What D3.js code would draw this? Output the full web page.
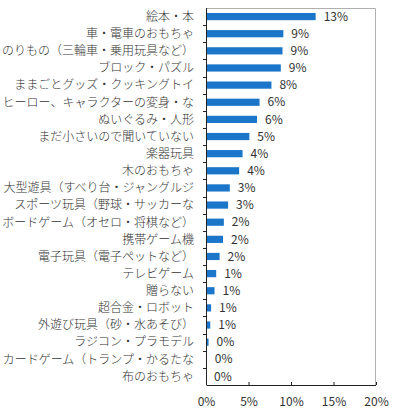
<!DOCTYPE html>
<html>
<head>
<meta charset="utf-8">
<script src="https://cdn.jsdelivr.net/npm/d3@7"></script>
<style>
  body { margin: 0; background: #fff; }
  text { font-family: "Noto Sans CJK JP", sans-serif; }
</style>
</head>
<body>
<script>
// data
var categories = [
    "絵本・本",
    "車・電車のおもちゃ",
    "のりもの（三輪車・乗用玩具など）",
    "ブロック・パズル",
    "ままごとグッズ・クッキングトイ",
    "ヒーロー、キャラクターの変身・な",
    "ぬいぐるみ・人形",
    "まだ小さいので聞いていない",
    "楽器玩具",
    "木のおもちゃ",
    "大型遊具（すべり台・ジャングルジ",
    "スポーツ玩具（野球・サッカーな",
    "ボードゲーム（オセロ・将棋など）",
    "携帯ゲーム機",
    "電子玩具（電子ペットなど）",
    "テレビゲーム",
    "贈らない",
    "超合金・ロボット",
    "外遊び玩具（砂・水あそび）",
    "ラジコン・プラモデル",
    "カードゲーム（トランプ・かるたな",
    "布のおもちゃ"
];
var values = [12.9, 9.1, 9.0, 8.8, 7.7, 6.3, 6.0, 5.1, 4.3, 3.9, 2.8, 2.6, 2.1, 2.0, 1.6, 1.2, 1.0, 0.6, 0.5, 0.3, 0.1, 0.0];
var valueLabels = ["13%", "9%", "9%", "9%", "8%", "6%", "6%", "5%", "4%", "4%", "3%", "3%", "2%", "2%", "2%", "1%", "1%", "1%", "1%", "0%", "0%", "0%"];
var xTicks = [0, 5, 10, 15, 20];

var width = 393;
var height = 413;
var margin = {top: 8, right: 17, bottom: 28, left: 206};

var svg = d3.select("body")
    .append("svg")
    .attr("width", width)
    .attr("height", height);

var innerW = width - margin.left - margin.right;
var innerH = height - margin.top - margin.bottom;

var g = svg.append("g")
    .attr("transform", "translate(" + margin.left + "," + margin.top + ")");

var x = d3.scaleLinear().domain([0, 20]).range([0, innerW]);
var y = d3.scaleBand().domain(categories).range([0, innerH]).paddingInner(0.58).paddingOuter(0.29);
var band = d3.scaleBand().domain(categories).range([0, innerH]);

// plot frame (top & right, light grey)
g.append("path")
    .attr("d", "M0,0.5H" + (innerW - 0.5) + "V" + innerH)
    .attr("fill", "none")
    .attr("stroke", "#b0b0b0")
    .attr("stroke-width", 1);

// bars
g.selectAll(".bar")
    .data(values)
    .enter().append("rect")
    .attr("class", "bar")
    .attr("x", 0)
    .attr("y", function(d, i) { return y(categories[i]); })
    .attr("width", function(d) { return x(d); })
    .attr("height", y.bandwidth())
    .attr("fill", "#1b75c8");

// value labels
g.selectAll(".val")
    .data(valueLabels)
    .enter().append("text")
    .attr("class", "val")
    .attr("x", function(d, i) { return x(values[i]) + 8; })
    .attr("y", function(d, i) { return y(categories[i]) + y.bandwidth() / 2; })
    .attr("dy", "0.35em")
    .attr("font-size", 12)
    .attr("font-family", "'Liberation Sans', Arial, sans-serif")
    .attr("fill", "#333")
    .text(function(d) { return d; });

// y axis: ticks at band boundaries
var yAxis = g.append("g");
yAxis.append("line")
    .attr("x1", 0.5).attr("x2", 0.5)
    .attr("y1", 0).attr("y2", innerH)
    .attr("stroke", "#222");
yAxis.selectAll(".ytick")
    .data(categories.slice(1))
    .enter().append("line")
    .attr("class", "ytick")
    .attr("x1", -3).attr("x2", 0)
    .attr("y1", function(d) { return Math.round(band(d)) + 0.5; })
    .attr("y2", function(d) { return Math.round(band(d)) + 0.5; })
    .attr("stroke", "#222");

// category labels
g.selectAll(".cat")
    .data(categories)
    .enter().append("text")
    .attr("class", "cat")
    .attr("x", -12)
    .attr("y", function(d) { return y(d) + y.bandwidth() / 2; })
    .attr("dy", "0.36em")
    .attr("text-anchor", "end")
    .attr("font-size", 12)
    .attr("font-weight", 300)
    .attr("fill", "#333")
    .text(function(d) { return d; });

// x axis
var xAxis = g.append("g")
    .attr("transform", "translate(0," + innerH + ")")
    .call(d3.axisBottom(x).tickValues(xTicks).tickSize(-3).tickPadding(12)
        .tickFormat(function(d) { return d + "%"; }));
xAxis.select(".domain").attr("stroke", "#222").attr("d", "M0.5,0.5H" + innerW);
xAxis.selectAll(".tick line").attr("stroke", "#222");
xAxis.selectAll("text")
    .attr("font-size", 12)
    .attr("font-family", "'Liberation Sans', Arial, sans-serif")
    .attr("fill", "#333");
</script>
</body>
</html>
